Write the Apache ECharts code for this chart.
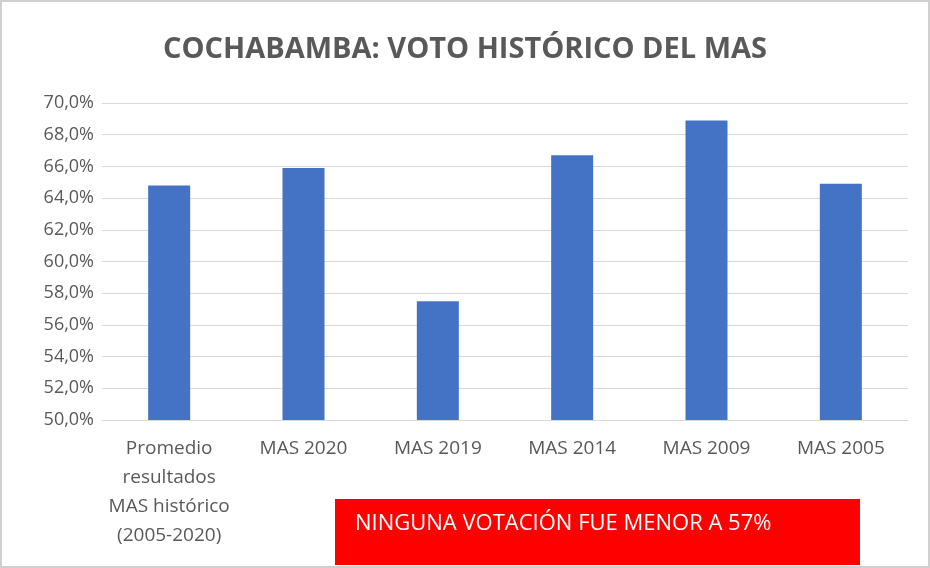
<!DOCTYPE html>
<html><head><meta charset="utf-8">
<script src="https://cdn.jsdelivr.net/npm/echarts@6/dist/echarts.min.js"></script>
<style>html,body{margin:0;padding:0;background:#fff}#c{width:930px;height:568px;box-sizing:border-box;border:2px solid #d0d0d0}</style>
</head><body><div id="c"></div>
<script>
const categories = ["Promedio\nresultados\nMAS histórico\n(2005-2020)", "MAS 2020", "MAS 2019", "MAS 2014", "MAS 2009", "MAS 2005"];
const values = [64.8, 65.9, 57.5, 66.7, 68.9, 64.9];
const title = "COCHABAMBA: VOTO HISTÓRICO DEL MAS";
const note = "NINGUNA VOTACIÓN FUE MENOR A 57%";
const chart = echarts.init(document.getElementById('c'));
chart.setOption({
  animation:false,
  title:{text:title,left:'center',top:28,textStyle:{fontFamily:'Open Sans',fontWeight:'bold',fontSize:29,color:'#595959'}},
  grid:{left:100,right:20,top:101,bottom:146},
  xAxis:{type:'category',data:categories,axisTick:{show:false},axisLine:{lineStyle:{color:'#d9d9d9'}},
    axisLabel:{color:'#595959',fontFamily:'Open Sans',fontSize:19,lineHeight:29,margin:14,interval:0}},
  yAxis:{type:'value',min:50,max:70,interval:2,
    axisLabel:{color:'#595959',fontFamily:'Open Sans',fontSize:18,formatter:v=>v.toFixed(1).replace('.',',')+'%'},
    splitLine:{lineStyle:{color:'#d9d9d9'}}},
  series:[{type:'bar',data:values,barWidth:42,itemStyle:{color:'#4472c4'}}],
  graphic:[{type:'group',left:333,top:497,children:[
    {type:'rect',shape:{x:0,y:0,width:525,height:66},style:{fill:'#ff0000'}},
    {type:'text',left:20,top:14,style:{text:note,fill:'#fff',font:'22px "Open Sans"'}}]}]
});
</script></body></html>
